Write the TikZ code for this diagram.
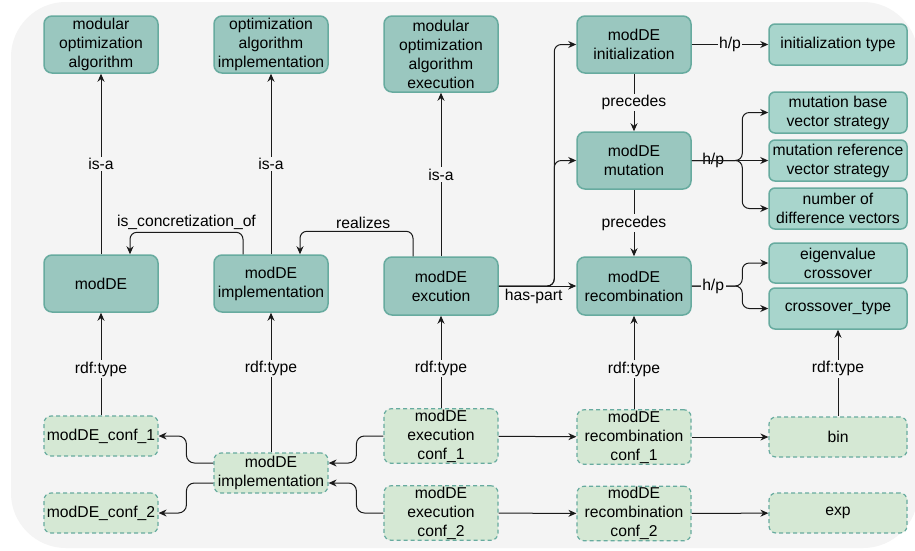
\documentclass[tikz,border=0pt]{standalone}
\usepackage{fontspec}
\setmainfont{Liberation Sans}
\usetikzlibrary{arrows.meta,calc}
\definecolor{bgc}{HTML}{F4F4F4}
\definecolor{dkfill}{HTML}{9AC7BF}
\definecolor{ltfill}{HTML}{A8D5CC}
\definecolor{tealdraw}{HTML}{67AB9F}
\definecolor{instfill}{HTML}{D5E8D4}
\definecolor{edgec}{HTML}{1A1A1A}
\tikzset{
  txt/.style={font=\fontsize{15.7}{19}\selectfont, align=center, inner sep=1pt},
  dk/.style={txt, draw=tealdraw, fill=dkfill, line width=1.5pt, rounded corners=8pt, minimum width=114pt, minimum height=57pt},
  lt/.style={txt, draw=tealdraw, fill=ltfill, line width=1.5pt, rounded corners=6pt, minimum width=138pt, minimum height=41pt},
  inst/.style={txt, draw=tealdraw, fill=instfill, line width=1.2pt, dash pattern=on 4pt off 3pt, rounded corners=7pt, minimum width=114pt},
  arr/.style={draw=edgec, line width=1pt, -{Stealth[length=8pt,width=7pt]}},
  lbl/.style={txt, fill=bgc, inner sep=1.5pt},
}
\begin{document}
\begin{tikzpicture}[x=1pt,y=-1pt]
\useasboundingbox (0,0) rectangle (915,550);
\fill[white] (0,0) rectangle (915,550);
\fill[bgc, rounded corners=55pt] (11,2) rectangle (918,548);

% top row classes
\node[dk] (n1) at (101,44.5) {modular\\optimization\\algorithm};
\node[dk] (n2) at (271,44.5) {optimization\\algorithm\\implementation};
\node[dk, minimum height=76pt] (n3) at (441,54) {modular\\optimization\\algorithm\\execution};

% middle row
\node[dk] (modde) at (101,283.5) {modDE};
\node[dk] (impl) at (271,283.5) {modDE\\implementation};
\node[dk, minimum height=58pt] (exec) at (441,286) {modDE\\excution};

% component column
\node[dk] (init) at (634,44.5) {modDE\\initialization};
\node[dk] (mut) at (634,160.5) {modDE\\mutation};
\node[dk, minimum height=58pt] (rec) at (634,286) {modDE\\recombination};

% hyperparameters
\node[lt] (itype) at (838,44.5) {initialization type};
\node[lt] (mbase) at (838,112.5) {mutation base\\vector strategy};
\node[lt] (mref) at (838,160.5) {mutation reference\\vector strategy};
\node[lt] (ndiff) at (838,208.5) {number of\\difference vectors};
\node[lt, minimum height=40pt] (eig) at (838,263) {eigenvalue\\crossover};
\node[lt] (ctype) at (838,308.5) {crossover\_type};

% instances
\node[inst, minimum height=40pt] (mc1) at (101,436) {modDE\_conf\_1};
\node[inst, minimum height=40pt] (mc2) at (101,513) {modDE\_conf\_2};
\node[inst, minimum height=40pt] (impli) at (271,473) {modDE\\implementation};
\node[inst, minimum height=54pt] (ec1) at (441,436) {modDE\\execution\\conf\_1};
\node[inst, minimum height=52pt] (ec2) at (441,513) {modDE\\execution\\conf\_2};
\node[inst, minimum height=54pt] (rc1) at (634,437) {modDE\\recombination\\conf\_1};
\node[inst, minimum height=53pt] (rc2) at (634,513.5) {modDE\\recombination\\conf\_2};
\node[inst, minimum width=138pt, minimum height=40pt] (bin) at (838,437) {bin};
\node[inst, minimum width=138pt, minimum height=40pt] (exp) at (838,513) {exp};

% is-a
\draw[arr] (modde) -- node[lbl]{is-a} (n1);
\draw[arr] (impl) -- node[lbl]{is-a} (n2);
\draw[arr] (exec) -- node[lbl]{is-a} (n3);

% is_concretization_of / realizes
\draw[arr, rounded corners=7pt] ([xshift=-28pt]impl.north) -- ++(0,-22) -| node[pos=0.25, above=1pt, txt]{is\_concretization\_of} ([xshift=29pt]modde.north);
\draw[arr, rounded corners=7pt] ([xshift=-28pt]exec.north) -- ++(0,-25) -| node[pos=0.22, above=1pt, txt]{realizes} ([xshift=29pt]impl.north);

% has-part
\draw[arr] (exec.east) -- node[below=2pt, txt, pos=0.45]{has-part} (rec.west);
\draw[arr, rounded corners=7pt] (exec.east) -| ([xshift=-22pt]init.west) -- (init.west);
\draw[arr, rounded corners=7pt] (exec.east) -| ([xshift=-22pt]mut.west) -- (mut.west);

% precedes
\draw[arr] (init) -- node[lbl]{precedes} (mut);
\draw[arr] (mut) -- node[lbl]{precedes} (rec);

% h/p
\draw[arr] (init.east) -- node[lbl]{h/p} (itype.west);
\draw[arr] (mut.east) -- node[lbl, pos=0.28]{h/p} (mref.west);
\draw[arr, rounded corners=7pt] (mut.east) -| ([xshift=-26pt]mbase.west) -- (mbase.west);
\draw[arr, rounded corners=7pt] (mut.east) -| ([xshift=-26pt]ndiff.west) -- (ndiff.west);
\draw[arr, rounded corners=7pt] (rec.east) -| ([xshift=-26pt]eig.west) -- (eig.west);
\draw[arr, rounded corners=7pt] (rec.east) -| ([xshift=-26pt]ctype.west) -- (ctype.west);
\node[lbl] (hplbl) at ($(rec.east)!0.28!(rec.east -| ctype.west)$) {h/p};

% rdf:type
\draw[arr] (mc1) -- node[lbl, pos=0.45]{rdf:type} (modde);
\draw[arr] (impli) -- node[lbl, pos=0.6]{rdf:type} (impl);
\draw[arr] (ec1) -- node[lbl, pos=0.43]{rdf:type} (exec);
\draw[arr] (rc1) -- node[lbl, pos=0.43]{rdf:type} (rec);
\draw[arr] (bin) -- node[lbl, pos=0.55]{rdf:type} (ctype);

% instance links
\draw[arr, rounded corners=8pt] ([yshift=10pt]impli.west) -- ++(-27,0) |- (mc1.east);
\draw[arr, rounded corners=8pt] ([yshift=-10pt]impli.west) -- ++(-27,0) |- (mc2.east);
\draw[arr, rounded corners=8pt] (ec1.west) -- ++(-27,0) |- ([yshift=10pt]impli.east);
\draw[arr, rounded corners=8pt] (ec2.west) -- ++(-27,0) |- ([yshift=-10pt]impli.east);
\draw[arr] (ec1) -- (rc1);
\draw[arr] (ec2) -- (rc2);
\draw[arr] (rc1) -- (bin);
\draw[arr] (rc2) -- (exp);
\end{tikzpicture}
\end{document}
